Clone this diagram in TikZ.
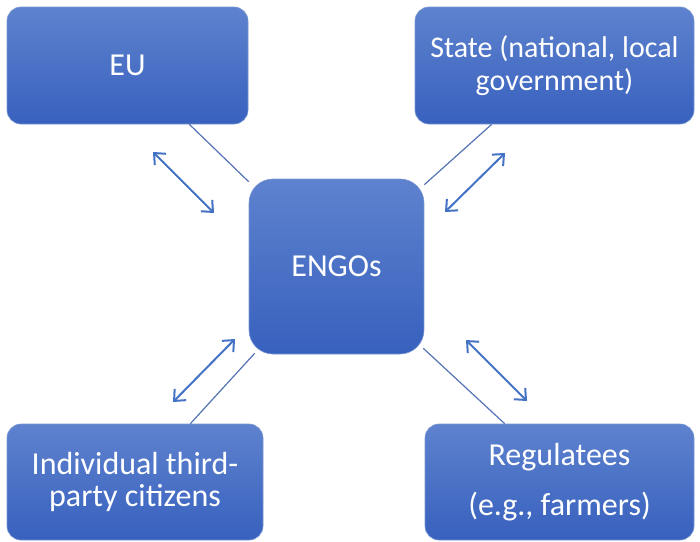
\documentclass[tikz,border=0pt]{standalone}
\usepackage{fontspec}
\setmainfont{Carlito}
\usetikzlibrary{arrows.meta}
\definecolor{boxtop}{RGB}{94,130,206}
\definecolor{boxbot}{RGB}{56,97,190}
\definecolor{boxedge}{RGB}{120,150,210}
\definecolor{linec}{RGB}{85,115,180}
\definecolor{arrc}{RGB}{68,114,196}
\begin{document}
\begin{tikzpicture}[x=1pt,y=-1pt,
  box/.style={rounded corners=14pt, top color=boxtop, bottom color=boxbot, draw=boxedge, line width=0.6pt,
    text=white, font=\fontsize{32}{32}\selectfont, align=center, inner sep=0pt},
  tie/.style={draw=linec, line width=1.2pt},
  dblarrow/.style={draw=arrc, line width=2pt, {Straight Barb[length=9pt,width=16pt]}-{Straight Barb[length=9pt,width=16pt]}}
]
\useasboundingbox (0,0) rectangle (700,541);
\node[box, minimum width=241pt, minimum height=117pt] (EU) at (127.5,65.5) {EU};
\node[box, minimum width=279pt, minimum height=117pt, font=\fontsize{30}{33}\selectfont] (ST) at (554.5,65.5) {State (national, local\\government)};
\node[box, rounded corners=24pt, minimum width=175pt, minimum height=175pt] (NG) at (336.5,266.5) {ENGOs};
\node[box, minimum width=256pt, minimum height=116pt] (IN) at (135,482) {Individual third-\\party citizens};
\node[box, minimum width=269pt, minimum height=116pt] (RG) at (559.5,482) {Regulatees\\[18pt](e.g., farmers)};

\draw[tie] ([xshift=-59pt]EU.south east) -- ([yshift=-3pt]NG.north west);
\draw[tie] ([xshift=77pt]ST.south west) -- ([yshift=-6pt]NG.north east);
\draw[tie] ([xshift=-73pt]IN.north east) -- ([xshift=6pt,yshift=1pt]NG.south west);
\draw[tie] ([xshift=80pt]RG.north west) -- ([yshift=6pt,xshift=-1pt]NG.south east);

\coordinate (a1) at (153,152); \coordinate (b1) at (214,213);
\coordinate (a2) at (505,153); \coordinate (b2) at (445,212);
\coordinate (a3) at (173,402); \coordinate (b3) at (235,339);
\coordinate (a4) at (466,340); \coordinate (b4) at (527,401);
\draw[dblarrow] (a1) -- (b1);
\draw[dblarrow] (a2) -- (b2);
\draw[dblarrow] (a3) -- (b3);
\draw[dblarrow] (a4) -- (b4);
\end{tikzpicture}
\end{document}
